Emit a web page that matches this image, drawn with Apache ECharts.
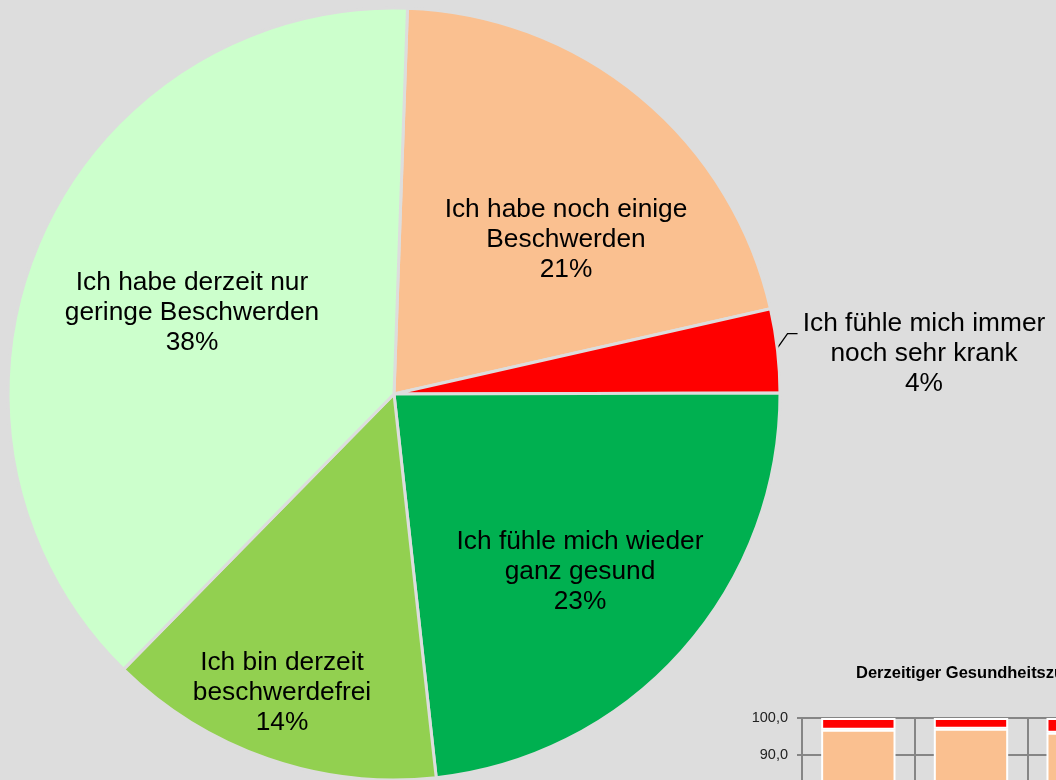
<!DOCTYPE html>
<html>
<head>
<meta charset="utf-8">
<script src="https://cdn.jsdelivr.net/npm/echarts@6/dist/echarts.min.js"></script>
<style>
  html, body { margin: 0; padding: 0; background: #dddddd; }
  #chart { width: 1056px; height: 780px; }
</style>
</head>
<body>
<div id="chart"></div>
<script>
// Pie: Anteile (Prozent), im Uhrzeigersinn ab 12 Uhr
var pieNames = [
    'Ich habe noch einige\nBeschwerden',
    'Ich fühle mich immer\nnoch sehr krank',
    'Ich fühle mich wieder\nganz gesund',
    'Ich bin derzeit\nbeschwerdefrei',
    'Ich habe derzeit nur\ngeringe Beschwerden'
];
var pieValues = [20.9, 3.5, 23.3, 14.1, 38.2];
var pieColors = ['#fac090', '#ff0000', '#00b050', '#92d050', '#ccffcc'];

// kleines Balkendiagramm (nur oberer Teil sichtbar)
var barTitle = 'Derzeitiger Gesundheitszustand';
var barCats = ['1', '2', '3'];
var barOrange = [96.8, 97.1, 96.0];
var barRed = [3.2, 2.9, 4.0];

// Layout
var cx = 394, cy = 394, R = 386;
var startDeg = 2; // Grad im Uhrzeigersinn ab 12 Uhr
// Label-Versatz zum Mittelpunkt
var labelShift = [[172, -154], [530, -40], [186, 178], [-112, 299], [-202, -81]];

var total = pieValues.reduce(function (a, b) { return a + b; }, 0);
function midAngle(i) {
    var acc = 0;
    for (var k = 0; k < i; k++) acc += pieValues[k];
    acc += pieValues[i] / 2;
    return (startDeg + acc / total * 360) * Math.PI / 180;
}

var pieData = pieNames.map(function (n, i) {
    var d = { name: n, value: pieValues[i], itemStyle: { color: pieColors[i] } };
    if (i === 1) {
        d.label = { position: 'outside' };
        d.labelLine = { show: true, length: 10, length2: 10, lineStyle: { color: '#000', width: 1.3 } };
    }
    return d;
});

var myChart = echarts.init(document.getElementById('chart'), null, { renderer: 'canvas' });
myChart.setOption({
    backgroundColor: '#dddddd',
    animation: false,
    title: {
        text: barTitle,
        left: 856, top: 665, padding: 0,
        textStyle: { fontFamily: 'Liberation Sans', fontWeight: 'bold', fontSize: 16.5, color: '#000' }
    },
    grid: { left: 802, right: -84, top: 718, bottom: -308, outerBoundsMode: 'none', containLabel: false },
    xAxis: {
        type: 'category',
        data: barCats,
        axisLabel: { show: false },
        axisTick: { show: false },
        axisLine: { lineStyle: { color: '#858585', width: 2 } },
        splitLine: { show: true, interval: 0, lineStyle: { color: '#858585', width: 2 } }
    },
    yAxis: {
        type: 'value',
        min: 0, max: 100, interval: 10,
        axisLine: { show: true, lineStyle: { color: '#858585', width: 2 } },
        axisTick: { show: true, length: 5, lineStyle: { color: '#858585', width: 2 } },
        splitLine: { lineStyle: { color: '#858585', width: 2 } },
        axisLabel: {
            margin: 14,
            fontFamily: 'Liberation Sans', fontSize: 14.5, color: '#222',
            formatter: function (v) { return v.toFixed(1).replace('.', ','); }
        }
    },
    series: [
        {
            type: 'pie',
            center: [cx, cy],
            radius: R,
            startAngle: 90 - startDeg,
            clockwise: true,
            percentPrecision: 0,
            data: pieData,
            itemStyle: { borderColor: '#dddddd', borderWidth: 3 },
            label: {
                show: true,
                position: 'inside',
                formatter: '{b}\n{d}%',
                fontFamily: 'Liberation Sans',
                fontSize: 26.3,
                lineHeight: 30,
                color: '#000'
            },
            labelLine: { show: false },
            labelLayout: function (p) {
                var s = labelShift[p.dataIndex];
                var out = { x: cx + s[0], y: cy + s[1], align: 'center', verticalAlign: 'middle' };
                if (p.dataIndex === 1) {
                    var a = midAngle(1);
                    var x0 = cx + R * Math.sin(a), y0 = cy - R * Math.cos(a);
                    out.labelLinePoints = [[x0 - 2, y0], [x0 + 10, y0 - 17], [x0 + 20, y0 - 17]];
                }
                return out;
            }
        },
        {
            type: 'bar', stack: 'g', barWidth: '66%',
            data: barOrange,
            itemStyle: { color: '#fac090', borderColor: '#ffffff', borderWidth: 2 }
        },
        {
            type: 'bar', stack: 'g', barWidth: '66%',
            data: barRed,
            itemStyle: { color: '#ff0000', borderColor: '#ffffff', borderWidth: 2 }
        }
    ]
});
</script>
</body>
</html>
